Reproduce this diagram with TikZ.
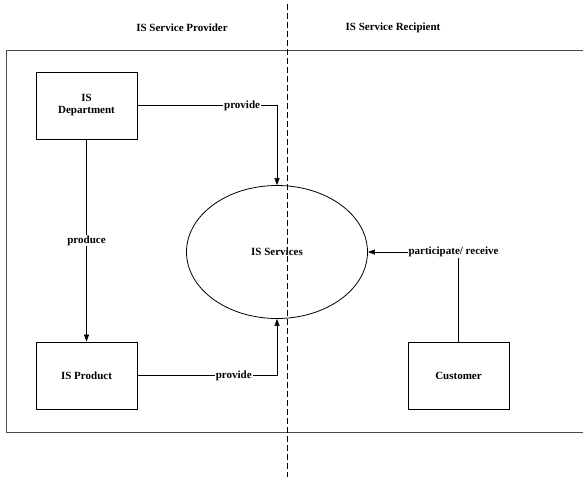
\documentclass[tikz,border=0pt]{standalone}
\usepackage{fontspec}
\setmainfont{Liberation Serif}
\usetikzlibrary{arrows.meta,positioning,shapes.geometric}

\begin{document}
\begin{tikzpicture}[x=1pt,y=-1pt,
    font=\fontsize{11}{12}\selectfont\bfseries,
    boite/.style={draw, thick, minimum width=101pt, minimum height=67pt, align=center},
    fleche/.style={-{Triangle[length=7pt,width=5pt]}, semithick},
    etiq/.style={fill=white, inner sep=1pt}]
          \useasboundingbox (0,0) rectangle (583,477);
          % cadre et separation
          \draw[black!70, line width=1pt] (583,50) -- (6,50) -- (6,432) -- (583,432);
          \draw[dashed, dash pattern=on 6pt off 3pt] (287,4) -- (287,477);
          \node (fournisseur) at (182,28) {IS Service Provider};
          \node (destinataire) at (393,28) {IS Service Recipient};
          % noeuds
          \node [boite] (departement) at (86.5,105.5) {IS\\Department};
          \node [boite] (produit) at (86.5,375.5) {IS Product};
          \node [boite] (client) at (458.5,375.5) {Customer};
          \node [draw, thick, ellipse, minimum width=181pt, minimum height=133pt] (services) at (277,252) {IS Services};
          % liens
          \draw[fleche] (departement) -- (produit) node[midway, etiq] {produce};
          \draw[fleche] (departement.east) -| (services.north -| 277,0) node[pos=0.375, etiq] {provide};
          \draw[fleche] (produit.east) -| (services.south -| 277,0) node[pos=0.345, etiq] {provide};
          \draw[fleche] (client.north) |- (services.east) node[pos=0.5, etiq, xshift=-5pt] {participate/ receive};
        \end{tikzpicture}
\end{document}
